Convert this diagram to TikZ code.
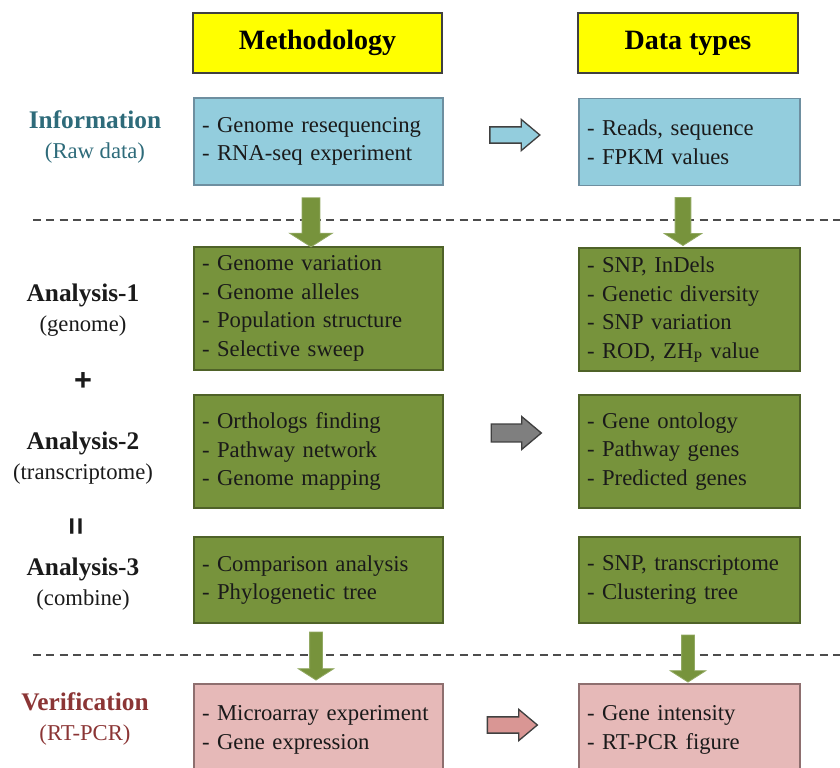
\documentclass[tikz,border=0pt]{standalone}
\usepackage{fontspec}
\setmainfont{Liberation Serif}
\setsansfont{Liberation Sans}
\usepackage{tikz}
\usetikzlibrary{shapes.arrows}
\definecolor{hdfill}{HTML}{FFFF00}
\definecolor{infofill}{HTML}{93CDDD}
\definecolor{infoline}{HTML}{6E8FA0}
\definecolor{anafill}{HTML}{77933C}
\definecolor{analine}{HTML}{4F6228}
\definecolor{verfill}{HTML}{E6B9B8}
\definecolor{verline}{HTML}{8E6F6F}
\definecolor{infotext}{HTML}{2E6B7A}
\definecolor{vertext}{HTML}{8B3535}
\definecolor{boxtext}{HTML}{1A1A1A}
\definecolor{grayarr}{HTML}{7F7F7F}
\definecolor{pinkarr}{HTML}{D99694}
\newcommand{\lbl}[2]{\textbf{#1}\\{\fontsize{17}{21}\selectfont #2}}
\tikzset{
  box/.style={rectangle, draw, line width=1.2pt, inner xsep=6pt, align=left,
    font=\fontsize{17}{21.5}\selectfont, text=boxtext},
  lbox/.style={box, minimum width=186.75pt, text width=174.75pt},
  rbox/.style={box, minimum width=165.75pt, text width=153.75pt},
  hdbox/.style={rectangle, draw=black!75, line width=1.2pt, fill=hdfill, minimum height=45pt,
    font=\fontsize{21}{25}\selectfont\bfseries},
  info/.style={fill=infofill, draw=infoline, minimum height=65.25pt},
  ana/.style={fill=anafill, draw=analine},
  ver/.style={fill=verfill, draw=verline, minimum height=69pt},
  side/.style={align=center, font=\fontsize{19}{22.5}\selectfont, text=boxtext},
  sym/.style={font=\fontsize{23}{23}\selectfont\sffamily\bfseries, text=boxtext, inner sep=0pt},
  harr/.style={single arrow, draw=black!75, line width=1pt, inner sep=5.6pt,
    minimum height=37.5pt, single arrow head extend=5.6pt, single arrow tip angle=80},
  darr/.style={single arrow, shape border rotate=270, fill=anafill, draw=anafill!80!white,
    line width=0.6pt, single arrow tip angle=115},
  sep/.style={dashed, dash pattern=on 6pt off 4pt, line width=1.1pt, draw=black!70}
}

\begin{document}
\begin{tikzpicture}[x=0.75pt,y=-0.75pt]
  \useasboundingbox (0,0) rectangle (840,768);

  \coordinate (s1a) at (33,220);
  \coordinate (s1b) at (840,220);
  \coordinate (s2a) at (33,655);
  \coordinate (s2b) at (840,655);
  \draw[sep] (s1a) -- (s1b);
  \draw[sep] (s2a) -- (s2b);

  \node[hdbox, minimum width=186.75pt] (mh) at (317.5,43) {Methodology};
  \node[hdbox, minimum width=165pt] (dh) at (688,43) {Data types};

  \node[side, text=infotext] (inf) at (95,137) {\lbl{Information}{(Raw data)}};
  \node[side] (an1) at (83,310) {\lbl{Analysis-1}{(genome)}};
  \node[sym] (plus) at (83,382) {+};
  \node[side] (an2) at (83,458) {\lbl{Analysis-2}{(transcriptome)}};
  \node[sym, rotate=90] (eq) at (79,527) {=};
  \node[side] (an3) at (83,584) {\lbl{Analysis-3}{(combine)}};
  \node[side, text=vertext] (ver) at (85,719) {\lbl{Verification}{(RT-PCR)}};

  \node[lbox, info] (m1) at (318.5,141.5) {- Genome resequencing\\- RNA-seq experiment};
  \node[rbox, info] (d1) at (689.5,142) {- Reads, sequence\\- FPKM values};
  \node[lbox, ana, minimum height=92.25pt] (m2) at (318.5,308.5)
    {- Genome variation\\- Genome alleles\\- Population structure\\- Selective sweep};
  \node[rbox, ana, minimum height=92.25pt] (d2) at (689.5,309.5)
    {- SNP, InDels\\- Genetic diversity\\- SNP variation\\- ROD, ZH\textsubscript{P} value};
  \node[lbox, ana, minimum height=84.75pt] (m3) at (318.5,451.5)
    {- Orthologs finding\\- Pathway network\\- Genome mapping};
  \node[rbox, ana, minimum height=84.75pt] (d3) at (689.5,451.5)
    {- Gene ontology\\- Pathway genes\\- Predicted genes};
  \node[lbox, ana, minimum height=64.5pt] (m4) at (318.5,580)
    {- Comparison analysis\\- Phylogenetic tree};
  \node[rbox, ana, minimum height=64.5pt] (d4) at (689.5,580)
    {- SNP, transcriptome\\- Clustering tree};
  \node[lbox, ver] (m5) at (318.5,730) {- Microarray experiment\\- Gene expression};
  \node[rbox, ver] (d5) at (689.5,730) {- Gene intensity\\- RT-PCR figure};

  \node[harr, fill=infofill] (a1) at (510,135) {};
  \node[harr, fill=grayarr, inner sep=6.2pt] (a2) at (511,433) {};
  \node[harr, fill=pinkarr] (a3) at (507.5,725) {};

  \node[darr, minimum height=36.75pt, inner sep=6.4pt, single arrow head extend=9.4pt]
    (v1) at (311,219.5) {};
  \node[darr, minimum height=36pt, inner sep=5.6pt, single arrow head extend=8.2pt]
    (v2) at (683,219) {};
  \node[darr, minimum height=36pt, inner sep=4.5pt, single arrow head extend=8.6pt]
    (v3) at (316,654) {};
  \node[darr, minimum height=35.25pt, inner sep=4.5pt, single arrow head extend=8.6pt]
    (v4) at (688,656.5) {};
\end{tikzpicture}
\end{document}
